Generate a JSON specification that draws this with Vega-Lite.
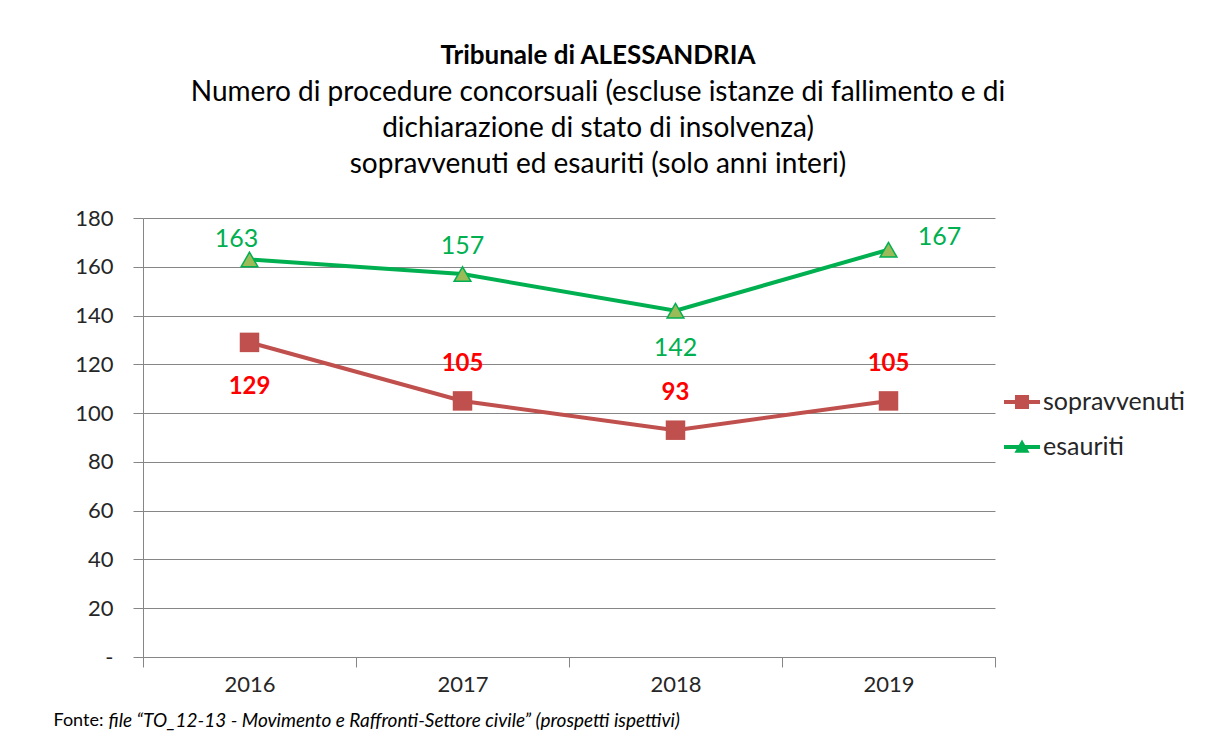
{
  "$schema": "https://vega.github.io/schema/vega-lite/v6.json",
  "autosize": {"type": "none"},
  "width": 852,
  "height": 439,
  "padding": {"left": 143, "top": 218, "right": 218, "bottom": 94},
  "background": "white",
  "config": {
    "font": "Lato",
    "view": {"stroke": null},
    "legend": {"labelFontSize": 25, "labelColor": "#262626", "rowPadding": 14, "labelOffset": 3,
      "padding": 0, "symbolSize": 1296, "symbolOpacity": 1, "symbolStrokeWidth": 0, "labelFont": "Lato", "labelLimit": 300}
  },
  "title": {
    "text": "Tribunale di ALESSANDRIA",
    "subtitle": ["Numero di procedure concorsuali (escluse istanze di fallimento e di", "dichiarazione di stato di insolvenza)", "sopravvenuti ed esauriti (solo anni interi)"],
    "fontSize": 26,
    "fontWeight": "bold",
    "subtitleFontSize": 28,
    "subtitleLineHeight": 36,
    "subtitlePadding": 10,
    "anchor": "middle",
    "dx": 29,
    "offset": 28,
    "font": "Lato",
    "subtitleFont": "Lato",
    "color": "#000000",
    "subtitleColor": "#000000"
  },
  "data": {"values": [
    {"year": "2016", "series": "sopravvenuti", "value": 129},
    {"year": "2017", "series": "sopravvenuti", "value": 105},
    {"year": "2018", "series": "sopravvenuti", "value": 93},
    {"year": "2019", "series": "sopravvenuti", "value": 105},
    {"year": "2016", "series": "esauriti", "value": 163},
    {"year": "2017", "series": "esauriti", "value": 157},
    {"year": "2018", "series": "esauriti", "value": 142},
    {"year": "2019", "series": "esauriti", "value": 167}
  ]},
  "encoding": {
    "x": {
      "field": "year", "type": "ordinal",
      "scale": {"type": "band", "paddingInner": 0, "paddingOuter": 0},
      "axis": {
        "tickBand": "extent", "tickSize": 10, "labelAngle": 0, "labelPadding": 7,
        "labelFontSize": 22, "labelColor": "#262626",
        "domainColor": "#868686", "tickColor": "#868686",
        "title": "file “TO_12-13 - Movimento e Raffronti-Settore civile” (prospetti ispettivi)",
        "titleFontStyle": "italic", "titleFontWeight": "normal", "titleFontSize": 19,
        "titleColor": "#000000",
        "titleX": -35, "titleY": 63, "titleAlign": "left", "titleAnchor": "start", "titleBaseline": "middle"
      }
    },
    "y": {
      "field": "value", "type": "quantitative",
      "scale": {"domain": [0, 180], "nice": false},
      "axis": {
        "values": [0, 20, 40, 60, 80, 100, 120, 140, 160, 180],
        "labelExpr": "datum.value == 0 ? '-' : datum.label",
        "grid": true, "gridColor": "#868686", "tickColor": "#868686", "domainColor": "#868686",
        "tickSize": 10, "labelPadding": 20, "labelFontSize": 22, "labelColor": "#262626",
        "title": "Fonte:", "titleAngle": 0, "titleX": -90, "titleY": 502,
        "titleAlign": "left", "titleBaseline": "middle", "titleFontSize": 18,
        "titleFontWeight": "normal", "titleColor": "#000000"
      }
    }
  },
  "layer": [
    {"transform": [{"filter": "datum.series == 'sopravvenuti'"}],
     "mark": {"type": "line", "color": "#C0504D", "strokeWidth": 4}},
    {"transform": [{"filter": "datum.series == 'esauriti'"}],
     "mark": {"type": "line", "color": "#00B050", "strokeWidth": 4}},
    {"transform": [{"filter": "datum.series == 'sopravvenuti'"}],
     "mark": {"type": "point", "shape": "square", "filled": true, "size": 380, "color": "#C0504D", "opacity": 1}},
    {"transform": [{"filter": "datum.series == 'esauriti'"}],
     "mark": {"type": "point", "shape": "triangle-up", "filled": true, "size": 280, "fill": "#9BBB59", "stroke": "#00B050", "strokeWidth": 1.5, "opacity": 1}},
    {"transform": [{"filter": "datum.series == 'sopravvenuti' && datum.year == '2016'"}],
     "mark": {"type": "text", "dy": 45, "fontSize": 24, "fontWeight": "bold", "color": "#FF0000", "baseline": "middle"},
     "encoding": {"text": {"field": "value"}}},
    {"transform": [{"filter": "datum.series == 'sopravvenuti' && datum.year != '2016'"}],
     "mark": {"type": "text", "dy": -37, "fontSize": 24, "fontWeight": "bold", "color": "#FF0000", "baseline": "middle"},
     "encoding": {"text": {"field": "value"}}},
    {"transform": [{"filter": "datum.series == 'esauriti' && datum.year == '2016'"}],
     "mark": {"type": "text", "dx": -13, "dy": -20, "fontSize": 25, "color": "#00B050", "baseline": "middle"},
     "encoding": {"text": {"field": "value"}}},
    {"transform": [{"filter": "datum.series == 'esauriti' && datum.year == '2017'"}],
     "mark": {"type": "text", "dy": -28, "fontSize": 25, "color": "#00B050", "baseline": "middle"},
     "encoding": {"text": {"field": "value"}}},
    {"transform": [{"filter": "datum.series == 'esauriti' && datum.year == '2018'"}],
     "mark": {"type": "text", "dy": 37, "fontSize": 25, "color": "#00B050", "baseline": "middle"},
     "encoding": {"text": {"field": "value"}}},
    {"transform": [{"filter": "datum.series == 'esauriti' && datum.year == '2019'"}],
     "mark": {"type": "text", "dx": 51, "dy": -13, "fontSize": 25, "color": "#00B050", "baseline": "middle"},
     "encoding": {"text": {"field": "value"}}},
    {"transform": [{"filter": "false"}],
     "mark": {"type": "point", "filled": true, "size": 1296, "opacity": 1},
     "encoding": {
       "color": {"field": "series", "type": "nominal",
         "scale": {"domain": ["sopravvenuti", "esauriti"], "range": ["#C0504D", "#00B050"]},
         "legend": {"title": null, "orient": "none", "legendX": 861, "legendY": 166}},
       "shape": {"field": "series", "type": "nominal",
         "scale": {"domain": ["sopravvenuti", "esauriti"],
           "range": ["M-1,-0.11H1V0.11H-1Z M-0.39,-0.39H0.39V0.39H-0.39Z", "M-1,-0.11H1V0.11H-1Z M0,-0.42L0.42,0.32H-0.42Z"]},
         "legend": {"title": null, "orient": "none", "legendX": 861, "legendY": 166}}
     }}
  ]
}
